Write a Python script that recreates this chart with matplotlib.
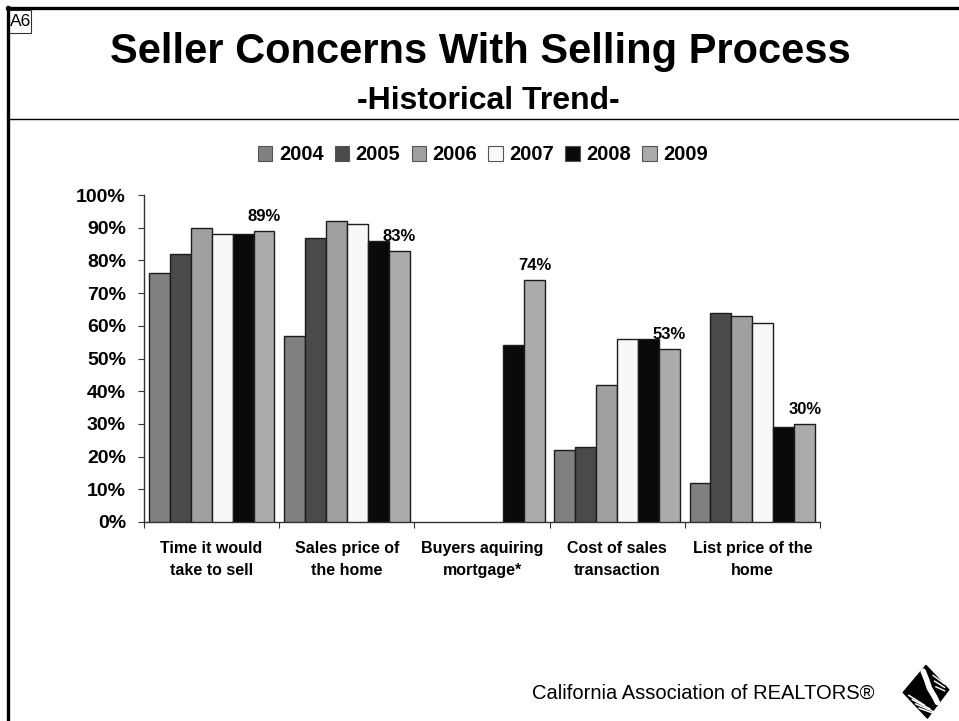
import numpy as np
import matplotlib
matplotlib.use("Agg")
import matplotlib.pyplot as plt
from matplotlib.patches import Patch, Polygon, Rectangle
from matplotlib.lines import Line2D

plt.rcParams['font.family'] = ['Liberation Sans', 'DejaVu Sans']

# survey data (share of sellers concerned)
categories = ["Time it would\ntake to sell", "Sales price of\nthe home",
              "Buyers aquiring\nmortgage*", "Cost of sales\ntransaction",
              "List price of the\nhome"]
years = ["2004", "2005", "2006", "2007", "2008", "2009"]
v2004 = [76, 57, np.nan, 22, 12]
v2005 = [82, 87, np.nan, 23, 64]
v2006 = [90, 92, np.nan, 42, 63]
v2007 = [88, 91, np.nan, 56, 61]
v2008 = [88, 86, 54, 56, 29]
v2009 = [89, 83, 74, 53, 30]
series = [v2004, v2005, v2006, v2007, v2008, v2009]
yticks = [0, 10, 20, 30, 40, 50, 60, 70, 80, 90, 100]

bar_colors = ['#808080', '#4a4a4a', '#a0a0a0', '#f8f8f8', '#0a0a0a', '#ababab']

W, H = 959, 721
fig = plt.figure(figsize=(W / 100, H / 100), dpi=100)


def px(x0, y0, x1, y1):
    # pixel box -> figure fraction rect
    return [x0 / W, 1 - y1 / H, (x1 - x0) / W, (y1 - y0) / H]


def fx(x):
    return x / W


def fy(y):
    return 1 - y / H


# page frame
fig.add_artist(Line2D([fx(7.5), fx(7.5)], [0, fy(7)], color='black', lw=2.4,
                      transform=fig.transFigure))
fig.add_artist(Line2D([fx(6.5), 1], [fy(8), fy(8)], color='black', lw=2.4,
                      transform=fig.transFigure))
fig.add_artist(Line2D([fx(7), 1], [fy(119), fy(119)], color='black', lw=1.0,
                      transform=fig.transFigure))
fig.add_artist(Rectangle((fx(8), fy(32.5)), 23 / W, 23 / H, fill=False,
                         edgecolor='#333333', lw=0.8, transform=fig.transFigure))
fig.text(fx(10), fy(21.5), "A6", fontsize=12.5, va='center', ha='left')

fig.text(fx(480), fy(63), "Seller Concerns With Selling Process",
         fontsize=30, fontweight='bold', ha='center', va='baseline')
fig.text(fx(488), fy(109), "-Historical Trend-",
         fontsize=23, fontweight='bold', ha='center', va='baseline')

# bar chart
ax = fig.add_axes(px(144, 195, 820, 522))
n = len(years)
w = 0.155
x = np.arange(len(categories)) + 0.5
for j, (vals, c) in enumerate(zip(series, bar_colors)):
    vals = np.array(vals, dtype=float)
    ok = ~np.isnan(vals)
    ax.bar(x[ok] + (j - (n - 1) / 2) * w, vals[ok], width=w, color=c,
           edgecolor='#1c1c1c', linewidth=1.0, zorder=3)

# value labels on the latest year
for xi, v in zip(x, v2009):
    ax.annotate(f"{v:.0f}%", (xi + (n - 1) / 2 * w, v), xytext=(0, 5),
                textcoords='offset points', ha='center', va='bottom',
                fontsize=12, fontweight='bold')

ax.set_xlim(0, len(categories))
ax.set_ylim(0, 100)
ax.set_yticks(yticks)
ax.set_yticklabels([f"{t}%" for t in yticks], fontsize=14, fontweight='bold')
ax.set_xticks(np.arange(len(categories) + 1))
ax.set_xticklabels([])
ax.set_xticks(x, minor=True)
ax.set_xticklabels(categories, minor=True, fontsize=11.5, fontweight='bold',
                   linespacing=1.55)
ax.tick_params(axis='x', which='minor', length=0, pad=14)
ax.tick_params(axis='x', which='major', length=4, direction='out', color='#333333')
ax.tick_params(axis='y', length=4, direction='out', pad=9, color='#333333')
for s in ['top', 'right']:
    ax.spines[s].set_visible(False)
for s in ['left', 'bottom']:
    ax.spines[s].set_color('#333333')
    ax.spines[s].set_linewidth(1.0)

handles = [Patch(facecolor=c, edgecolor='#555555', linewidth=0.8) for c in bar_colors]
fig.legend(handles, years, loc='center', bbox_to_anchor=(fx(483), fy(155)),
           ncol=6, frameon=False, prop={'weight': 'bold', 'size': 14.5},
           handlelength=0.7, handleheight=0.7, handletextpad=0.35,
           columnspacing=0.55)

# footer
fig.text(fx(875), fy(693), "California Association of REALTORS\u00ae",
         fontsize=14.5, ha='right', va='center')

# logo mark
lax = fig.add_axes(px(893, 664, 959, 721))
lax.set_xlim(-1, 1)
lax.set_ylim(-1, 1)
lax.set_aspect('equal')
lax.axis('off')
lax.add_patch(Polygon([[0.0, 0.95], [0.8, 0.1], [0.05, -0.9], [-0.8, 0.0]],
                      closed=True, facecolor='black', edgecolor='black', lw=1,
                      joinstyle='round'))
# radiating stripes
for k in range(4):
    lax.plot([-0.6 + k * 0.12, -0.05 + k * 0.18], [-0.1 - k * 0.15, -0.45 - k * 0.12],
             color='white', lw=1.1)
for k in range(3):
    lax.plot([0.25 + k * 0.05, 0.65], [0.6 - k * 0.2, 0.3 - k * 0.12], color='white', lw=1.0)
# state outline
lax.plot([-0.1, 0.02, 0.12, 0.3, 0.4], [0.75, 0.45, 0.15, -0.15, -0.35], color='white',
         lw=4.0, solid_capstyle='round')

fig.savefig('out.png', dpi=100)
